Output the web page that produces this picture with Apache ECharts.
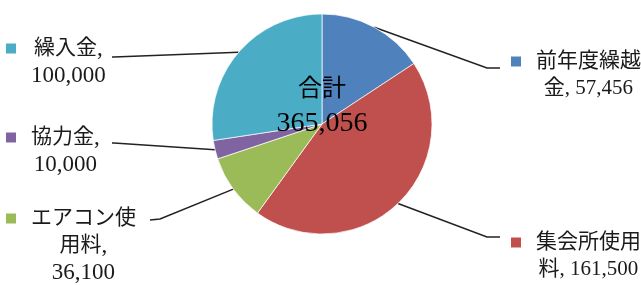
<!DOCTYPE html>
<html>
<head>
<meta charset="utf-8">
<script src="https://cdn.jsdelivr.net/npm/echarts@6/dist/echarts.min.js"></script>
<style>
  html, body { margin: 0; padding: 0; background: #fff; }
  #chart { width: 641px; height: 285px; }
</style>
</head>
<body>
<div id="chart"></div>
<script>
// 項目と金額
var categories = ["前年度繰越金", "集会所使用料", "エアコン使用料", "協力金", "繰入金"];
var values = [57456, 161500, 36100, 10000, 100000];
var colors = ["#4f81bd", "#c0504d", "#9bbb59", "#8064a2", "#4bacc6"];

// ラベルの改行位置（名前の何文字目で折り返すか、金額を別行にするか）
var nameBreak = [5, 5, 5, 0, 0];
var valueOwnLine = [false, false, true, true, true];

// ラベル位置と引き出し線の折れ点・終点
var labelPos = [
    { x: 511, y: 48, bend: [487, 68], end: [500, 68] },
    { x: 511, y: 229, bend: [487, 237], end: [500, 237] },
    { x: 6, y: 205, bend: [160, 219], end: [150, 220] },
    { x: 6, y: 124, bend: [114, 143], end: [112, 143] },
    { x: 6, y: 35, bend: [114, 57], end: [112, 57] }
];

var pieCenter = [322, 124];
var fontFamily = "'Liberation Serif', 'Noto Sans CJK JP', serif";

function fmt(v) {
    return v.toLocaleString("en-US");
}

var total = values.reduce(function (a, b) { return a + b; }, 0);

var rich = {
    g: { width: 15, align: "left" },
    s: { width: 25, align: "left" },
    t: { align: "center", fontSize: 21, lineHeight: 27, color: "#1a1a1a", fontFamily: fontFamily },
    n: { align: "center", fontSize: 21, lineHeight: 27, color: "#1a1a1a", fontFamily: fontFamily },
    nl: { align: "center", fontSize: 23, lineHeight: 27, color: "#1a1a1a", fontFamily: fontFamily }
};
colors.forEach(function (c, i) {
    rich["m" + i] = { width: 10, height: 10, backgroundColor: c, align: "left" };
});

// 漢字・かなと英数字を別の書式に分ける
function runs(str, numKey) {
    var parts = str.match(/[\u3000-\u9fff\uff00-\uffef]+|[^\u3000-\u9fff\uff00-\uffef]+/g) || [];
    return parts.map(function (p) {
        return /[\u3000-\u9fff\uff00-\uffef]/.test(p) ? "{t|" + p + "}" : "{" + numKey + "|" + p + "}";
    }).join("");
}

var myChart = echarts.init(document.getElementById("chart"), null, { renderer: "canvas" });

var option = {
    animation: false,
    color: colors,
    graphic: [{
        type: "text",
        x: pieCenter[0],
        y: pieCenter[1] - 17,
        z: 100,
        zlevel: 1,
        silent: true,
        style: {
            text: "{a|合計}\n{b|" + fmt(total) + "}",
            align: "center",
            verticalAlign: "middle",
            rich: {
                a: { fontSize: 24, lineHeight: 34, color: "#36435e", fontFamily: fontFamily },
                b: { fontSize: 28, lineHeight: 34, color: "#27304b", fontFamily: fontFamily }
            }
        }
    }],
    series: [{
        type: "pie",
        center: pieCenter,
        radius: 110,
        startAngle: 90,
        clockwise: true,
        avoidLabelOverlap: false,
        data: categories.map(function (name, i) {
            return { name: name, value: values[i] };
        }),
        itemStyle: {
            borderColor: "rgba(255,255,255,0.7)",
            borderWidth: 1
        },
        emphasis: { disabled: true },
        label: {
            show: true,
            position: "outer",
            formatter: function (params) {
                var i = params.dataIndex;
                var name = params.name;
                var v = fmt(params.value);
                var b = nameBreak[i];
                var numKey = labelPos[i].x < pieCenter[0] ? "nl" : "n";
                var rows = b ? [name.slice(0, b)] : [];
                var tail = b ? name.slice(b) : name;
                if (valueOwnLine[i]) {
                    rows.push(tail + ",");
                    rows.push(v);
                } else {
                    rows.push(tail + ", " + v);
                }
                return rows.map(function (r, k) {
                    return (k === 0 ? "{m" + i + "|}{g|}" : "{s|}") + runs(r, numKey);
                }).join("\n");
            },
            rich: rich
        },
        labelLine: {
            show: true,
            length: 20,
            length2: 10,
            lineStyle: { color: "#222", width: 1.5 }
        },
        labelLayout: function (params) {
            var p = labelPos[params.dataIndex];
            var start = params.labelLinePoints[0];
            return {
                x: p.x,
                y: p.y,
                align: "left",
                verticalAlign: "top",
                labelLinePoints: [start, p.bend, p.end]
            };
        }
    }]
};

myChart.setOption(option);
</script>
</body>
</html>
